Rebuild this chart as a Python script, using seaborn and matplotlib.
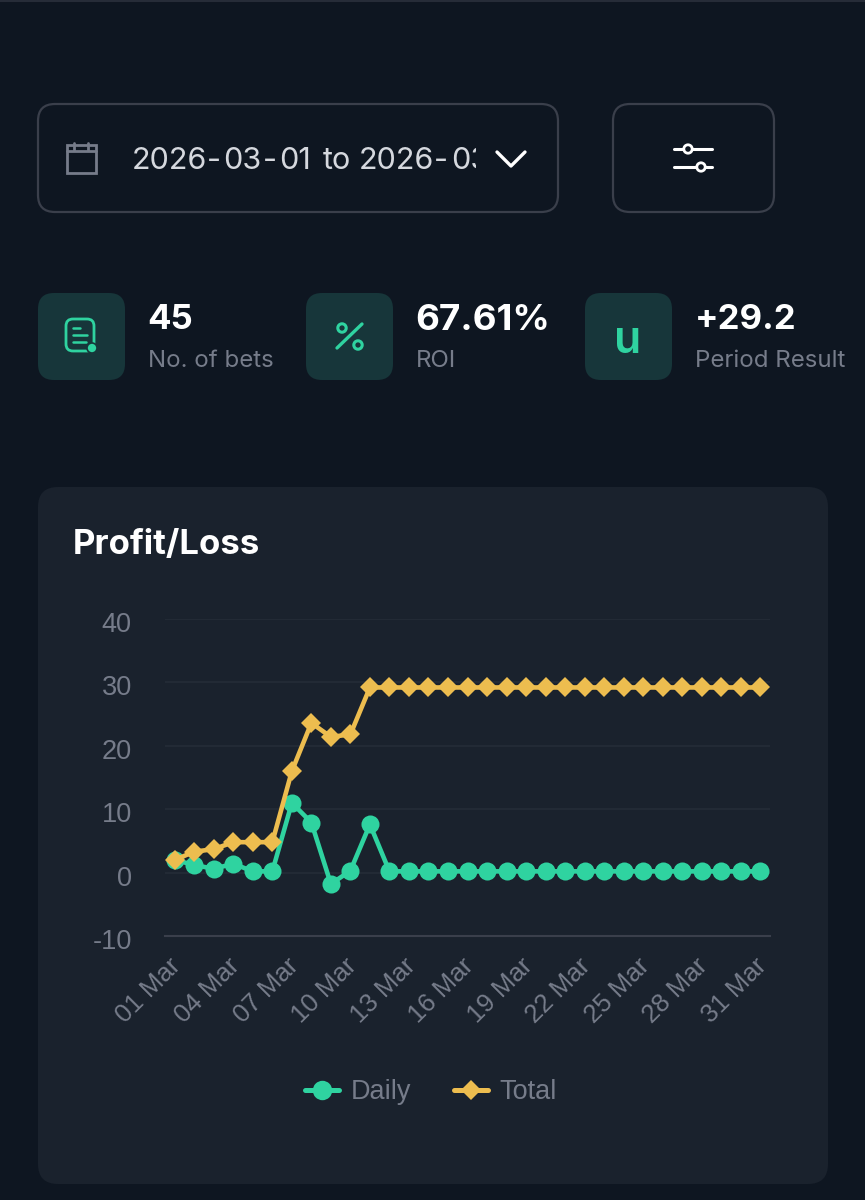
import matplotlib

matplotlib.use("Agg")
import matplotlib.pyplot as plt
import numpy as np
import pandas as pd
import seaborn as sns
from matplotlib.patches import Circle, FancyBboxPatch, Rectangle
from matplotlib.transforms import ScaledTranslation

W, H = 865, 1200

BG = "#0e1621"
CARD = "#1a222d"
ICON_BG = "#17363a"
GREEN = "#2fd3a0"
YELLOW = "#edbd4f"
MUTED = "#767c8a"
BORDER = "#3a3f4b"

days = [f"{d:02d} Mar" for d in range(1, 32)]
daily = [2.0, 1.2, 0.6, 1.4, 0.2, 0.2, 11.0, 7.9, -1.8, 0.3, 7.6] + [0.2] * 20
total = [2.0, 3.3, 3.7, 4.8, 4.8, 4.8, 16.0, 23.6, 21.4, 21.8, 29.2] + [29.2] * 20
y_ticks = [-10, 0, 10, 20, 30, 40]

stats = [
    ("45", "No. of bets", 147.5, 25),
    ("67.61%", "ROI", 415.5, 26.5),
    ("+29.2", "Period Result", 695, 25),
]
# the picker text has wide letter spacing, so it goes down piece by piece
date_parts = [
    ("2026", 132),
    ("-", 207),
    ("03", 223),
    ("-", 263),
    ("01", 279),
    ("to", 323),
    ("2026", 359),
    ("-", 434),
    ("03", 451),
]


def round_box(ax, x, y, w, h, r, fc, ec="none", lw=0):
    box = FancyBboxPatch(
        (x + r, y + r),
        w - 2 * r,
        h - 2 * r,
        boxstyle=f"round,pad={r},rounding_size={r}",
        fc=fc,
        ec=ec,
        lw=lw,
    )
    ax.add_patch(box)
    return box


sns.set_theme(style="dark")
plt.rcParams["font.family"] = ["Inter", "DejaVu Sans"]

fig = plt.figure(figsize=(W / 100, H / 100), dpi=100, facecolor=BG)

# whole page in pixel coords, y pointing down like the screenshot
ui = fig.add_axes([0, 0, 1, 1], zorder=0)
ui.set_xlim(0, W)
ui.set_ylim(H, 0)
ui.axis("off")

ui.plot([0, W], [1, 1], color="#262c38", lw=1.5)

# date picker
round_box(ui, 38, 104, 520, 108, 17, "none", BORDER, 1.6)
cal = dict(color=MUTED, lw=2)
ui.add_patch(Rectangle((67, 145), 29, 28, fc="none", ec=MUTED, lw=2))
ui.plot([67, 96], [151, 151], **cal)
ui.plot([74, 74], [143, 150], **cal)
ui.plot([88, 88], [143, 150], **cal)
for part, x in date_parts:
    t = ui.text(x, 161, part, color="#d5d8de", fontsize=22, va="center")
    t.set_clip_path(Rectangle((120, 130), 356, 60, transform=ui.transData))
    t.set_clip_on(True)
ui.plot([497, 511, 525], [152, 166, 152], color="white", lw=2.4)

# filter button
round_box(ui, 613, 104, 161, 108, 17, "none", BORDER, 1.6)
ui.plot([674, 712], [149, 149], color="white", lw=2.2)
ui.plot([674, 712], [167, 167], color="white", lw=2.2)
ui.add_patch(Circle((688, 149), 4.2, fc=BG, ec="white", lw=2, zorder=3))
ui.add_patch(Circle((701, 167), 4.2, fc=BG, ec="white", lw=2, zorder=3))

# stat tiles
for x in [38, 306, 585]:
    round_box(ui, x, 293, 87, 87, 16, ICON_BG)
for value, label, x, size in stats:
    ui.text(x, 320, value, color="white", fontsize=size, fontweight="bold", va="center")
    ui.text(x, 361, label, color=MUTED, fontsize=17.3, va="center")

round_box(ui, 66, 319, 28, 32, 7, "none", GREEN, 2)
for x0, x1, y in [(73, 80, 328), (73, 87, 335), (73, 86, 342)]:
    ui.plot([x0, x1], [y, y], color=GREEN, lw=1.8)
ui.add_patch(Circle((92, 348), 5, fc=GREEN, ec=ICON_BG, lw=1.2, zorder=3))

ui.plot([337, 362], [348, 324], color=GREEN, lw=2.4, solid_capstyle="round")
ui.add_patch(Circle((342, 328), 4.2, fc="none", ec=GREEN, lw=2.2))
ui.add_patch(Circle((358, 345), 4.2, fc="none", ec=GREEN, lw=2.2))
ui.text(628, 341, "u", color=GREEN, fontsize=32, fontweight="semibold", ha="center", va="center")

# chart card
round_box(ui, 38, 487, 790, 697, 20, CARD)
ui.text(73, 545, "Profit/Loss", color="white", fontsize=25, fontweight="bold", va="center")

df = pd.DataFrame(
    {
        "day": np.tile(days, 2),
        "value": daily + total,
        "series": ["Daily"] * len(days) + ["Total"] * len(days),
    }
)

ax_left, ax_right, ax_top, ax_bottom = 165, 770, 619, 936
ax = fig.add_axes(
    [
        ax_left / W,
        1 - ax_bottom / H,
        (ax_right - ax_left) / W,
        (ax_bottom - ax_top) / H,
    ],
    zorder=1,
)
ax.patch.set_alpha(0)

sns.lineplot(
    data=df,
    x="day",
    y="value",
    hue="series",
    style="series",
    palette={"Daily": GREEN, "Total": YELLOW},
    markers={"Daily": "o", "Total": "D"},
    dashes=False,
    linewidth=3.3,
    markersize=13,
    markeredgewidth=0,
    sort=False,
    ax=ax,
    clip_on=False,
)
# the diamonds are a bit smaller than the circles
ax.lines[1].set_markersize(10)

ax.set_xlim(-0.5, 30.5)
ax.set_ylim(-10, 40)
ax.set_xlabel("")
ax.set_ylabel("")
ax.set_yticks(y_ticks)
ax.set_yticklabels([str(v) for v in y_ticks])
ax.set_xticks(range(0, 31, 3))
ax.set_xticklabels(days[::3])
ax.grid(axis="y", color="#222a35", lw=1.5)
ax.grid(axis="x", visible=False)
ax.set_axisbelow(True)
for name, spine in ax.spines.items():
    spine.set_visible(name == "bottom")
ax.spines["bottom"].set_color(BORDER)
ax.spines["bottom"].set_linewidth(1.5)
ax.tick_params(axis="both", length=0)
ax.tick_params(axis="y", pad=24)
ax.tick_params(axis="x", pad=13)

y_shift = ScaledTranslation(0, -3 / 100, fig.dpi_scale_trans)
for t in ax.get_yticklabels():
    t.set(color=MUTED, fontsize=19.5, fontfamily="Liberation Sans")
    t.set_transform(t.get_transform() + y_shift)
x_shift = ScaledTranslation(-6 / 100, 0, fig.dpi_scale_trans)
for t in ax.get_xticklabels():
    t.set(
        color=MUTED,
        fontsize=18.5,
        fontfamily="Liberation Sans",
        rotation=45,
        ha="right",
        va="top",
        rotation_mode="anchor",
    )
    t.set_transform(t.get_transform() + x_shift)

handles, labels = ax.get_legend_handles_labels()
leg = ax.legend(
    handles,
    labels,
    loc="center",
    bbox_to_anchor=(431 / W, 1 - 1092 / H),
    bbox_transform=fig.transFigure,
    ncol=2,
    frameon=False,
    handlelength=1.25,
    handletextpad=0.42,
    columnspacing=1.6,
    prop={"family": "Liberation Sans", "size": 19.5},
    labelcolor=MUTED,
)
for h, size in zip(leg.get_lines(), [14, 10]):
    h.set_linewidth(3.6)
    h.set_markersize(size)

fig.savefig("out.png", dpi=100, facecolor=BG)
